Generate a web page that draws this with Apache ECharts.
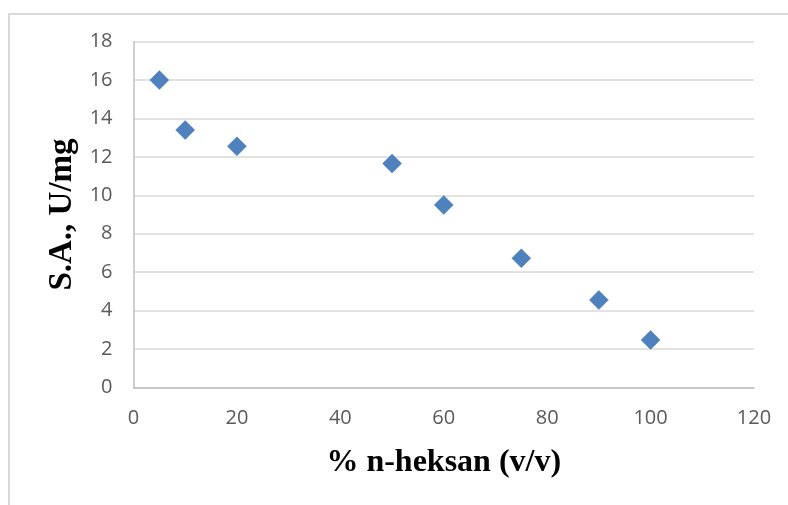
<!DOCTYPE html>
<html>
<head>
<meta charset="utf-8">
<script src="https://cdn.jsdelivr.net/npm/echarts@6/dist/echarts.min.js"></script>
<style>html,body{margin:0;padding:0;background:#fff;}#c{width:788px;height:505px;}</style>
</head>
<body>
<div id="c"></div>
<script>
const xValues = [5, 10, 20, 50, 60, 75, 90, 100];
const yValues = [16.0, 13.4, 12.55, 11.65, 9.5, 6.72, 4.55, 2.47];
const xTitle = '% n-heksan (v/v)';
const yTitle = 'S.A., U/mg';

const chart = echarts.init(document.getElementById('c'), null, {renderer: 'canvas'});
chart.setOption({
  animation: false,
  backgroundColor: '#fff',
  graphic: [{
    type: 'rect', silent: true, z: -1,
    shape: {x: 9, y: 14, width: 900, height: 700},
    style: {fill: 'none', stroke: '#d9d9d9', lineWidth: 2}
  }],
  grid: {left: 133.5, right: 34, top: 41.7, bottom: 117.7},
  xAxis: {
    type: 'value', min: 0, max: 120, interval: 20,
    name: xTitle, nameLocation: 'middle', nameGap: 59,
    nameTextStyle: {fontFamily: 'Liberation Serif', fontWeight: 'bold', fontSize: 32, color: '#000'},
    axisLine: {show: true, lineStyle: {color: '#bfbfbf', width: 1.5}},
    axisTick: {show: false},
    axisLabel: {fontFamily: 'Open Sans', fontSize: 20, color: '#595959', margin: 21},
    splitLine: {show: false}
  },
  yAxis: {
    type: 'value', min: 0, max: 18, interval: 2,
    name: yTitle, nameLocation: 'middle', nameGap: 54,
    nameTextStyle: {fontFamily: 'Liberation Serif', fontWeight: 'bold', fontSize: 33, color: '#000'},
    axisLine: {show: true, lineStyle: {color: '#bfbfbf', width: 1.5}},
    axisTick: {show: false},
    axisLabel: {fontFamily: 'Open Sans', fontSize: 20, color: '#595959', margin: 21},
    splitLine: {show: true, lineStyle: {color: '#d9d9d9', width: 1.5}}
  },
  series: [{
    type: 'scatter',
    symbol: 'diamond',
    symbolSize: 19,
    itemStyle: {color: '#4F81BD', borderColor: '#4A7EBB', borderWidth: 0.5, opacity: 1},
    data: xValues.map((x, i) => [x, yValues[i]])
  }]
});
</script>
</body>
</html>
